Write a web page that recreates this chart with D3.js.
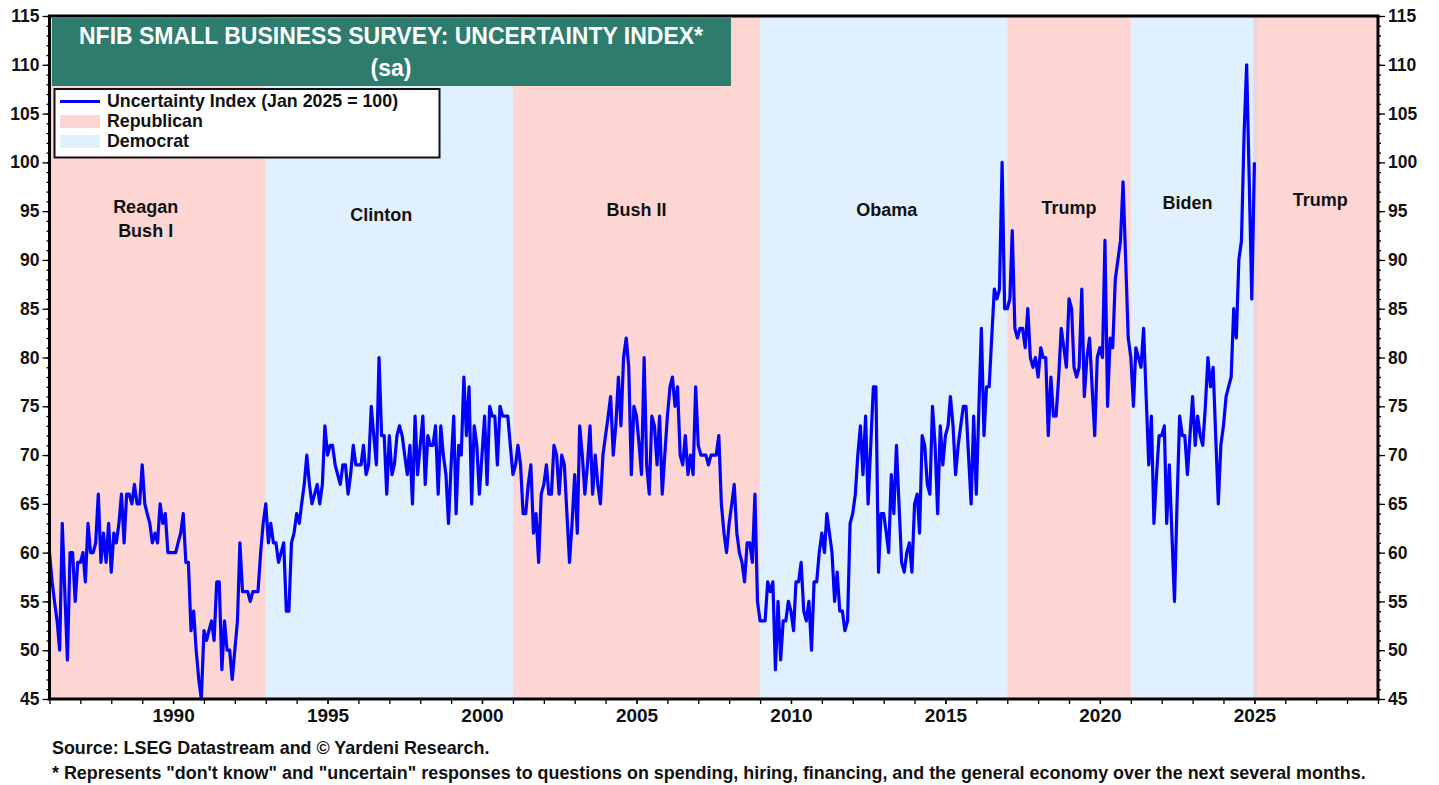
<!DOCTYPE html>
<html>
<head>
<meta charset="utf-8">
<script src="https://cdn.jsdelivr.net/npm/d3@7"></script>
<style>
  html, body { margin: 0; padding: 0; background: #ffffff; }
  svg { display: block; }
  text { font-family: "Liberation Sans", Arial, sans-serif; font-weight: bold; }
</style>
</head>
<body>
<svg id="chart" width="1439" height="785"></svg>
<script>
// ---------------- DATA ----------------
const titleLines = ["NFIB SMALL BUSINESS SURVEY: UNCERTAINTY INDEX*", "(sa)"];
const seriesName = "Uncertainty Index (Jan 2025 = 100)";
const startYear = 1986; // monthly series beginning January 1986
const uncertainty = [
  60, 57, 55, 53, 50, 63, 56, 49, 60, 60, 55, 59,   // 1986
  59, 60, 57, 63, 60, 60, 61, 66, 59, 62, 59, 63,   // 1987
  58, 62, 61, 63, 66, 61, 66, 66, 65, 67, 65, 65,   // 1988
  69, 65, 64, 63, 61, 62, 61, 65, 63, 64, 60, 60,   // 1989
  60, 60, 61, 62, 64, 59, 59, 52, 54, 50, 47, 45,   // 1990
  52, 51, 52, 53, 51, 57, 57, 48, 53, 50, 50, 47,   // 1991
  50, 53, 61, 56, 56, 56, 55, 56, 56, 56, 60, 63,   // 1992
  65, 61, 63, 61, 61, 59, 60, 61, 54, 54, 61, 62,   // 1993
  64, 63, 65, 67, 70, 67, 65, 66, 67, 65, 67, 73,   // 1994
  70, 71, 71, 69, 68, 67, 69, 69, 66, 68, 71, 69,   // 1995
  69, 69, 71, 68, 69, 75, 72, 69, 80, 72, 72, 66,   // 1996
  72, 68, 69, 72, 73, 72, 70, 68, 71, 65, 74, 68,   // 1997
  71, 74, 67, 72, 71, 71, 73, 66, 73, 70, 68, 63,   // 1998
  69, 74, 64, 71, 70, 78, 72, 77, 65, 73, 71, 66,   // 1999
  70, 74, 67, 75, 74, 74, 69, 75, 74, 74, 74, 71,   // 2000
  68, 69, 71, 69, 64, 64, 67, 69, 62, 64, 59, 66,   // 2001
  67, 69, 66, 66, 71, 70, 66, 70, 69, 64, 59, 63,   // 2002
  68, 62, 73, 70, 66, 69, 73, 66, 70, 67, 65, 70,   // 2003
  72, 74, 76, 70, 73, 78, 73, 80, 82, 79, 68, 75,   // 2004
  74, 71, 68, 80, 69, 66, 74, 73, 69, 74, 66, 70,   // 2005
  74, 77, 78, 75, 77, 70, 69, 72, 68, 70, 68, 77,   // 2006
  71, 70, 70, 70, 69, 70, 70, 70, 72, 65, 62, 60,   // 2007
  63, 65, 67, 62, 60, 59, 57, 61, 61, 59, 66, 55,   // 2008
  53, 53, 53, 57, 56, 57, 48, 55, 49, 53, 53, 55,   // 2009
  54, 52, 57, 57, 59, 54, 53, 55, 50, 57, 57, 60,   // 2010
  62, 60, 64, 62, 60, 55, 58, 54, 54, 52, 53, 63,   // 2011
  64, 66, 70, 73, 68, 74, 65, 71, 77, 77, 58, 64,   // 2012
  64, 62, 60, 68, 64, 71, 65, 59, 58, 60, 61, 58,   // 2013
  65, 66, 62, 72, 71, 67, 66, 75, 71, 64, 73, 69,   // 2014
  72, 73, 76, 73, 68, 71, 73, 75, 75, 70, 65, 74,   // 2015
  66, 75, 83, 72, 77, 77, 82, 87, 86, 87, 100, 85,  // 2016
  85, 86, 93, 83, 82, 83, 83, 81, 85, 80, 79, 80,   // 2017
  78, 81, 80, 80, 72, 78, 74, 74, 78, 83, 81, 79,   // 2018
  86, 85, 79, 78, 79, 87, 76, 80, 82, 77, 72, 80,   // 2019
  81, 80, 92, 75, 82, 81, 88, 90, 92, 98, 90, 82,   // 2020
  80, 75, 81, 80, 79, 83, 76, 69, 74, 63, 68, 72,   // 2021
  72, 73, 63, 69, 62, 55, 65, 74, 72, 72, 68, 72,   // 2022
  76, 71, 74, 72, 71, 75, 80, 77, 79, 72, 65, 71,   // 2023
  73, 76, 77, 78, 85, 82, 90, 92, 103, 110, 98, 86, // 2024
  100                                               // 2025
];

const presidents = ["Reagan\nBush I", "Clinton", "Bush II", "Obama", "Trump", "Biden", "Trump"];
const parties    = ["Republican", "Democrat", "Republican", "Democrat", "Republican", "Democrat", "Republican"];
const termStart  = [1986, 1993, 2001, 2009, 2017, 2021, 2025];
const termEnd    = [1993, 2001, 2009, 2017, 2021, 2025, 2029];

const yTickValues = [45, 50, 55, 60, 65, 70, 75, 80, 85, 90, 95, 100, 105, 110, 115];
const xLabelYears = [1990, 1995, 2000, 2005, 2010, 2015, 2020, 2025];

const sourceNote = "Source: LSEG Datastream and \u00A9 Yardeni Research.";
const footNote = "* Represents \"don't know\" and \"uncertain\" responses to questions on spending, hiring, financing, and the general economy over the next several months.";

// ---------------- LAYOUT / STYLE ----------------
const W = 1439, H = 785;
const plot = { left: 49.5, right: 1378, top: 16, bottom: 699 };
const colors = { Republican: "#fdd6d4", Democrat: "#e1f0fe", line: "#0000ff", title: "#2e7c6e" };
const fs = { tickY: 17.5, tickX: 19, title: 23, legend: 17.8, note: 17.9, pres: 18 };
// president label layout: dx from band centre, y of first line centre
const labelLayout = [
  { dx: -12, y: 207 }, { dx: -8, y: 215 }, { dx: 0, y: 210 }, { dx: 3, y: 210 },
  { dx: 0, y: 208 }, { dx: -5, y: 203 }, { dx: 4, y: 200 }
];

const svg = d3.select("#chart");

const x = d3.scaleTime()
  .domain([new Date(1986, 0, 1), new Date(2029, 0, 1)])
  .range([plot.left, plot.right]);
const y = d3.scaleLinear().domain([45, 115]).range([plot.bottom, plot.top]);

const points = uncertainty.map((v, i) => ({ date: new Date(startYear, i, 1), value: v }));
const yearDate = yr => new Date(Math.floor(yr), 0, 1);

// ---- bands ----
const bands = presidents.map((p, i) => ({ name: p, party: parties[i], start: termStart[i], end: termEnd[i], i }));
svg.append("g").selectAll("rect").data(bands).join("rect")
  .attr("x", d => x(yearDate(d.start)))
  .attr("y", plot.top)
  .attr("width", d => x(yearDate(d.end)) - x(yearDate(d.start)))
  .attr("height", plot.bottom - plot.top)
  .attr("fill", d => colors[d.party]);
// faint overlap at Jan 2025 transition
svg.append("rect")
  .attr("x", x(new Date(2025, 0, 1)) - 1)
  .attr("y", plot.top).attr("width", 4).attr("height", plot.bottom - plot.top)
  .attr("fill", "#ecd3dc");

// ---- president labels ----
const lbl = svg.append("g");
bands.forEach(d => {
  const cx = (x(yearDate(d.start)) + x(yearDate(d.end))) / 2 + labelLayout[d.i].dx;
  const lines = d.name.split("\n");
  lines.forEach((ln, k) => {
    lbl.append("text")
      .attr("x", cx).attr("y", labelLayout[d.i].y + k * 24)
      .attr("text-anchor", "middle").attr("dominant-baseline", "central")
      .attr("font-size", fs.pres).attr("fill", "#111")
      .text(ln);
  });
});

// ---- line ----
const line = d3.line().x(d => x(d.date)).y(d => y(d.value));
svg.append("path")
  .datum(points)
  .attr("d", line)
  .attr("fill", "none")
  .attr("stroke", colors.line)
  .attr("stroke-width", 3.2)
  .attr("stroke-linejoin", "round");

// ---- axes ----
const minorY = d3.range(45, 116, 1);
const axL = svg.append("g").attr("transform", `translate(${plot.left},0)`);
axL.call(d3.axisLeft(y).tickValues(minorY).tickSize(3).tickFormat(""));
axL.call(g => g.append("g").call(d3.axisLeft(y).tickValues(yTickValues).tickSize(7).tickPadding(3)));
const axR = svg.append("g").attr("transform", `translate(${plot.right},0)`);
axR.call(d3.axisRight(y).tickValues(minorY).tickSize(3).tickFormat(""));
axR.call(g => g.append("g").call(d3.axisRight(y).tickValues(yTickValues).tickSize(7).tickPadding(3)));

const yearTicks = d3.range(1986, 2030).map(yr => new Date(yr, 0, 1));
const axB = svg.append("g").attr("transform", `translate(0,${plot.bottom})`);
axB.call(d3.axisBottom(x).tickValues(yearTicks).tickSize(5).tickFormat(""));
axB.call(g => g.append("g").call(
  d3.axisBottom(x).tickValues(xLabelYears.map(yr => new Date(yr, 0, 1))).tickSize(5).tickPadding(5)
    .tickFormat(d3.timeFormat("%Y"))));

svg.selectAll(".domain").remove();
svg.selectAll(".tick line").attr("stroke", "#000").attr("stroke-width", 1.3);
axL.selectAll("text").attr("font-size", fs.tickY).attr("fill", "#111");
axR.selectAll("text").attr("font-size", fs.tickY).attr("fill", "#111");
axB.selectAll("text").attr("font-size", fs.tickX).attr("fill", "#111");
svg.selectAll(".tick text").style("font-family", "'Liberation Sans', Arial, sans-serif").style("font-weight", "bold");

// frame
svg.append("rect")
  .attr("x", plot.left).attr("y", plot.top)
  .attr("width", plot.right - plot.left).attr("height", plot.bottom - plot.top)
  .attr("fill", "none").attr("stroke", "#000").attr("stroke-width", 3);

// ---- title box ----
svg.append("rect").attr("x", 52).attr("y", 18).attr("width", 679).attr("height", 68)
  .attr("fill", colors.title);
svg.append("text").attr("x", 391).attr("y", 36).attr("text-anchor", "middle")
  .attr("dominant-baseline", "central").attr("font-size", fs.title).attr("fill", "#fff").text(titleLines[0]);
svg.append("text").attr("x", 391).attr("y", 68).attr("text-anchor", "middle")
  .attr("dominant-baseline", "central").attr("font-size", fs.title).attr("fill", "#fff").text(titleLines[1]);

// ---- legend ----
const lg = svg.append("g");
lg.append("rect").attr("x", 54.5).attr("y", 89).attr("width", 385).attr("height", 68.5)
  .attr("fill", "#fff").attr("stroke", "#111").attr("stroke-width", 2);
lg.append("line").attr("x1", 60).attr("x2", 100).attr("y1", 101.5).attr("y2", 101.5)
  .attr("stroke", colors.line).attr("stroke-width", 3);
lg.append("rect").attr("x", 60).attr("y", 115).attr("width", 40).attr("height", 13).attr("fill", colors.Republican);
lg.append("rect").attr("x", 60).attr("y", 135).attr("width", 40).attr("height", 13).attr("fill", colors.Democrat);
const legendItems = [seriesName, "Republican", "Democrat"];
legendItems.forEach((t, k) => {
  lg.append("text").attr("x", 107).attr("y", 101 + k * 20).attr("dominant-baseline", "central")
    .attr("font-size", fs.legend).attr("fill", "#111").text(t);
});

// ---- notes ----
svg.append("text").attr("x", 52).attr("y", 748).attr("dominant-baseline", "central")
  .attr("font-size", fs.note).attr("fill", "#111").text(sourceNote);
svg.append("text").attr("x", 52).attr("y", 773).attr("dominant-baseline", "central")
  .attr("font-size", fs.note).attr("fill", "#111").text(footNote);
</script>
</body>
</html>
